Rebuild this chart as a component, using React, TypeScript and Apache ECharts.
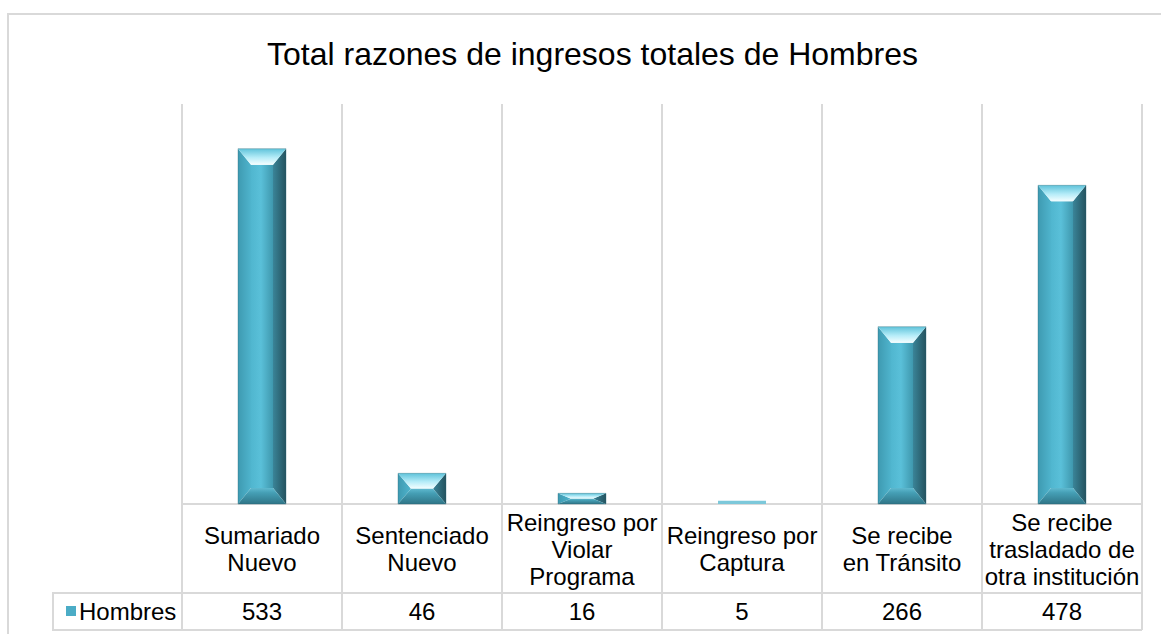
import React, { useEffect, useRef } from "react";
import * as echarts from "echarts";

const titleText = "Total razones de ingresos totales de Hombres";
const seriesName = "Hombres";
const categories = [
  "Sumariado\nNuevo",
  "Sentenciado\nNuevo",
  "Reingreso por\nViolar\nPrograma",
  "Reingreso por\nCaptura",
  "Se recibe\nen Tránsito",
  "Se recibe\ntrasladado de\notra institución",
];
const values = [533, 46, 16, 5, 266, 478];
const yMax = 600;

const FONT = "'Liberation Sans', Arial, sans-serif";
const GRID_COLOR = "#d9d9d9";

const lg = (x: number, y: number, x2: number, y2: number, stops: [number, string][]) =>
  new echarts.graphic.LinearGradient(
    x, y, x2, y2,
    stops.map(([offset, color]) => ({ offset, color }))
  );

function renderBar(params: any, api: any) {
  const idx = api.value(0);
  const v = api.value(1);
  const topPt = api.coord([idx, v]);
  const basePt = api.coord([idx, 0]);
  const bw = api.size([1, 0])[0] * 0.3;
  const left = topPt[0] - bw / 2;
  const right = topPt[0] + bw / 2;
  const top = topPt[1];
  const bottom = basePt[1];
  const h = bottom - top;
  const b = Math.min(13, bw / 2);
  const bv = Math.min(16, h / 2);
  const children: any[] = [];
  if (h < 5) {
    children.push({
      type: "rect",
      shape: { x: left, y: top, width: bw, height: Math.max(h, 1) },
      style: { fill: "#7cc8da" },
    });
    return { type: "group", children };
  }
  children.push({
    type: "rect",
    shape: { x: left + b, y: top + bv, width: bw - 2 * b, height: Math.max(0, h - 2 * bv) },
    style: {
      fill: lg(0, 0, 1, 0, [
        [0, "#50b6cf"],
        [0.45, "#5ac0d9"],
        [1, "#3f98ae"],
      ]),
    },
  });
  children.push({
    type: "polygon",
    shape: {
      points: [
        [left, top],
        [left + b, top + bv],
        [left + b, bottom - bv],
        [left, bottom],
      ],
    },
    style: { fill: lg(0, 0, 1, 0, [[0, "#3e9ab1"], [1, "#4fb4cd"]]) },
  });
  children.push({
    type: "polygon",
    shape: {
      points: [
        [right, top],
        [right, bottom],
        [right - b, bottom - bv],
        [right - b, top + bv],
      ],
    },
    style: { fill: lg(0, 0, 1, 0, [[0, "#3a8498"], [1, "#24535f"]]) },
  });
  children.push({
    type: "polygon",
    shape: {
      points: [
        [left, top],
        [right, top],
        [right - b, top + bv],
        [left + b, top + bv],
      ],
    },
    style: { fill: lg(0, 0, 0, 1, [[0, "#5fc3da"], [0.55, "#b5ecf8"], [1, "#f5feff"]]) },
  });
  children.push({
    type: "polygon",
    shape: {
      points: [
        [left + b, bottom - bv],
        [right - b, bottom - bv],
        [right, bottom],
        [left, bottom],
      ],
    },
    style: { fill: lg(0, 0, 0, 1, [[0, "#5fb9cf"], [0.3, "#459fb5"], [1, "#2f7587"]]) },
  });
  children.push({
    type: "rect",
    shape: { x: left, y: top, width: bw, height: h },
    style: { fill: "none", stroke: "rgba(40,100,115,0.35)", lineWidth: 1 },
  });
  return { type: "group", children };
}

export default function App() {
  const ref = useRef<HTMLDivElement>(null);
  useEffect(() => {
    if (!ref.current) return;
    const chart = echarts.init(ref.current, null, { renderer: "svg" });
    chart.setOption({
      animation: false,
      backgroundColor: "#ffffff",
      title: {
        text: titleText,
        left: 262,
        top: 33,
        textStyle: { fontFamily: FONT, fontSize: 32, fontWeight: "normal", color: "#000" },
      },
      legend: {
        data: [{ name: seriesName, icon: "rect" }],
        left: 61,
        top: 594,
        itemWidth: 10,
        itemHeight: 10,
        itemGap: 4,
        textStyle: { fontFamily: FONT, fontSize: 24, color: "#000", padding: [0, 0, 0, -2] },
      },
      grid: { left: 182, right: 19, top: 104, bottom: 130, containLabel: false },
      xAxis: [
        {
          type: "category",
          data: categories,
          position: "bottom",
          axisLine: { show: true, lineStyle: { color: GRID_COLOR, width: 2 } },
          axisTick: { show: true, interval: 0, length: 126, lineStyle: { color: GRID_COLOR, width: 2 } },
          splitLine: { show: true, interval: 0, lineStyle: { color: GRID_COLOR, width: 2 } },
          axisLabel: {
            interval: 0,
            margin: 45,
            verticalAlign: "middle",
            align: "center",
            lineHeight: 27,
            fontFamily: FONT,
            fontSize: 24,
            color: "#000",
          },
        },
        {
          type: "category",
          data: values.map(String),
          position: "bottom",
          offset: 89,
          axisLine: { show: true, lineStyle: { color: GRID_COLOR, width: 2 } },
          axisTick: { show: false },
          splitLine: { show: false },
          axisLabel: {
            interval: 0,
            margin: 18,
            verticalAlign: "middle",
            fontFamily: FONT,
            fontSize: 24,
            color: "#000",
          },
        },
      ],
      yAxis: { type: "value", min: 0, max: yMax, show: false, splitLine: { show: false } },
      graphic: [
        {
          type: "rect",
          z: -10,
          shape: { x: 8, y: 14, width: 1200, height: 700 },
          style: { fill: "none", stroke: GRID_COLOR, lineWidth: 2 },
        },
        {
          type: "polyline",
          shape: { points: [[182, 593], [53, 593], [53, 630], [1142, 630]] },
          style: { fill: "none", stroke: GRID_COLOR, lineWidth: 2 },
        },
      ],
      series: [
        {
          type: "custom",
          name: seriesName,
          xAxisIndex: 0,
          yAxisIndex: 0,
          itemStyle: { color: "#4bacc6" },
          encode: { x: 0, y: 1 },
          data: values.map((v, i) => [i, v]),
          renderItem: renderBar,
        },
      ],
    });
    return () => chart.dispose();
  }, []);
  return (
    <div
      ref={ref}
      style={{ position: "fixed", left: 0, top: 0, width: 1161, height: 634, background: "#fff" }}
    />
  );
}
